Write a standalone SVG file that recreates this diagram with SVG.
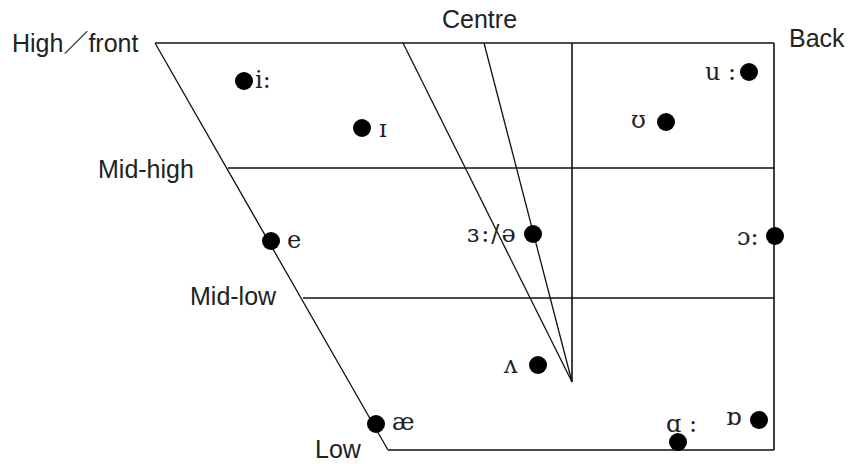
<svg xmlns="http://www.w3.org/2000/svg" width="853" height="464" viewBox="0 0 853 464">
<style>
.lbl{font-family:"Liberation Sans","Noto Sans CJK SC",Arial,sans-serif;font-size:25px;fill:#222}
.ipa{font-family:"DejaVu Serif","Liberation Serif",serif;font-size:24px;fill:#222}
.ln{stroke:#111;stroke-width:1.6;fill:none}
.sl{stroke:#111;stroke-width:1.3;fill:none}
.dot{fill:#000}
</style>
<rect width="853" height="464" fill="#fff"/>
<g id="connectors">
<line class="ln" x1="155" y1="43" x2="774" y2="43"/>
<line class="ln" x1="774" y1="43" x2="774" y2="450"/>
<line class="ln" x1="388" y1="450" x2="774" y2="450"/>
<line class="sl" x1="155" y1="43" x2="388" y2="450"/>
<line class="ln" x1="228" y1="168" x2="774" y2="168"/>
<line class="ln" x1="303" y1="298" x2="774" y2="298"/>
<line class="ln" x1="572" y1="43" x2="572" y2="382"/>
<line class="sl" x1="403" y1="43" x2="572" y2="382"/>
<line class="sl" x1="484" y1="43" x2="572" y2="382"/>
</g>
<g id="labels">
<text class="lbl" x="12" y="52">High／front</text>
<text class="lbl" x="442" y="28">Centre</text>
<text class="lbl" x="789" y="47">Back</text>
<text class="lbl" x="98" y="178">Mid-high</text>
<text class="lbl" x="190" y="305">Mid-low</text>
<text class="lbl" x="315" y="458">Low</text>
</g>
<g id="vowel-i-long"><circle class="dot" cx="244" cy="81" r="9"/><text class="ipa" x="255" y="88">i:</text></g>
<g id="vowel-i-short"><circle class="dot" cx="362" cy="128" r="9"/><text class="ipa" x="379" y="137">ɪ</text></g>
<g id="vowel-u-long"><circle class="dot" cx="749" cy="72" r="9"/><text class="ipa" x="705" y="80">u :</text></g>
<g id="vowel-u-short"><circle class="dot" cx="666" cy="122" r="9"/><text class="ipa" x="631" y="128">ʊ</text></g>
<g id="vowel-e"><circle class="dot" cx="271" cy="241" r="9"/><text class="ipa" x="287" y="248">e</text></g>
<g id="vowel-schwa"><circle class="dot" cx="533" cy="234" r="9"/><text class="ipa" x="467" y="242" letter-spacing="2">ɜ:/ə</text></g>
<g id="vowel-o-long"><circle class="dot" cx="775" cy="236" r="9"/><text class="ipa" x="737" y="245">ɔ:</text></g>
<g id="vowel-wedge"><circle class="dot" cx="538" cy="365" r="9"/><text class="ipa" x="504" y="373">ʌ</text></g>
<g id="vowel-ae"><circle class="dot" cx="376" cy="424" r="9"/><text class="ipa" x="392" y="430">æ</text></g>
<g id="vowel-a-long"><circle class="dot" cx="678" cy="442" r="9"/><text class="ipa" x="666" y="432">ɑ :</text></g>
<g id="vowel-o-short"><circle class="dot" cx="759" cy="420" r="9"/><text class="ipa" x="726" y="425">ɒ</text></g>
</svg>
